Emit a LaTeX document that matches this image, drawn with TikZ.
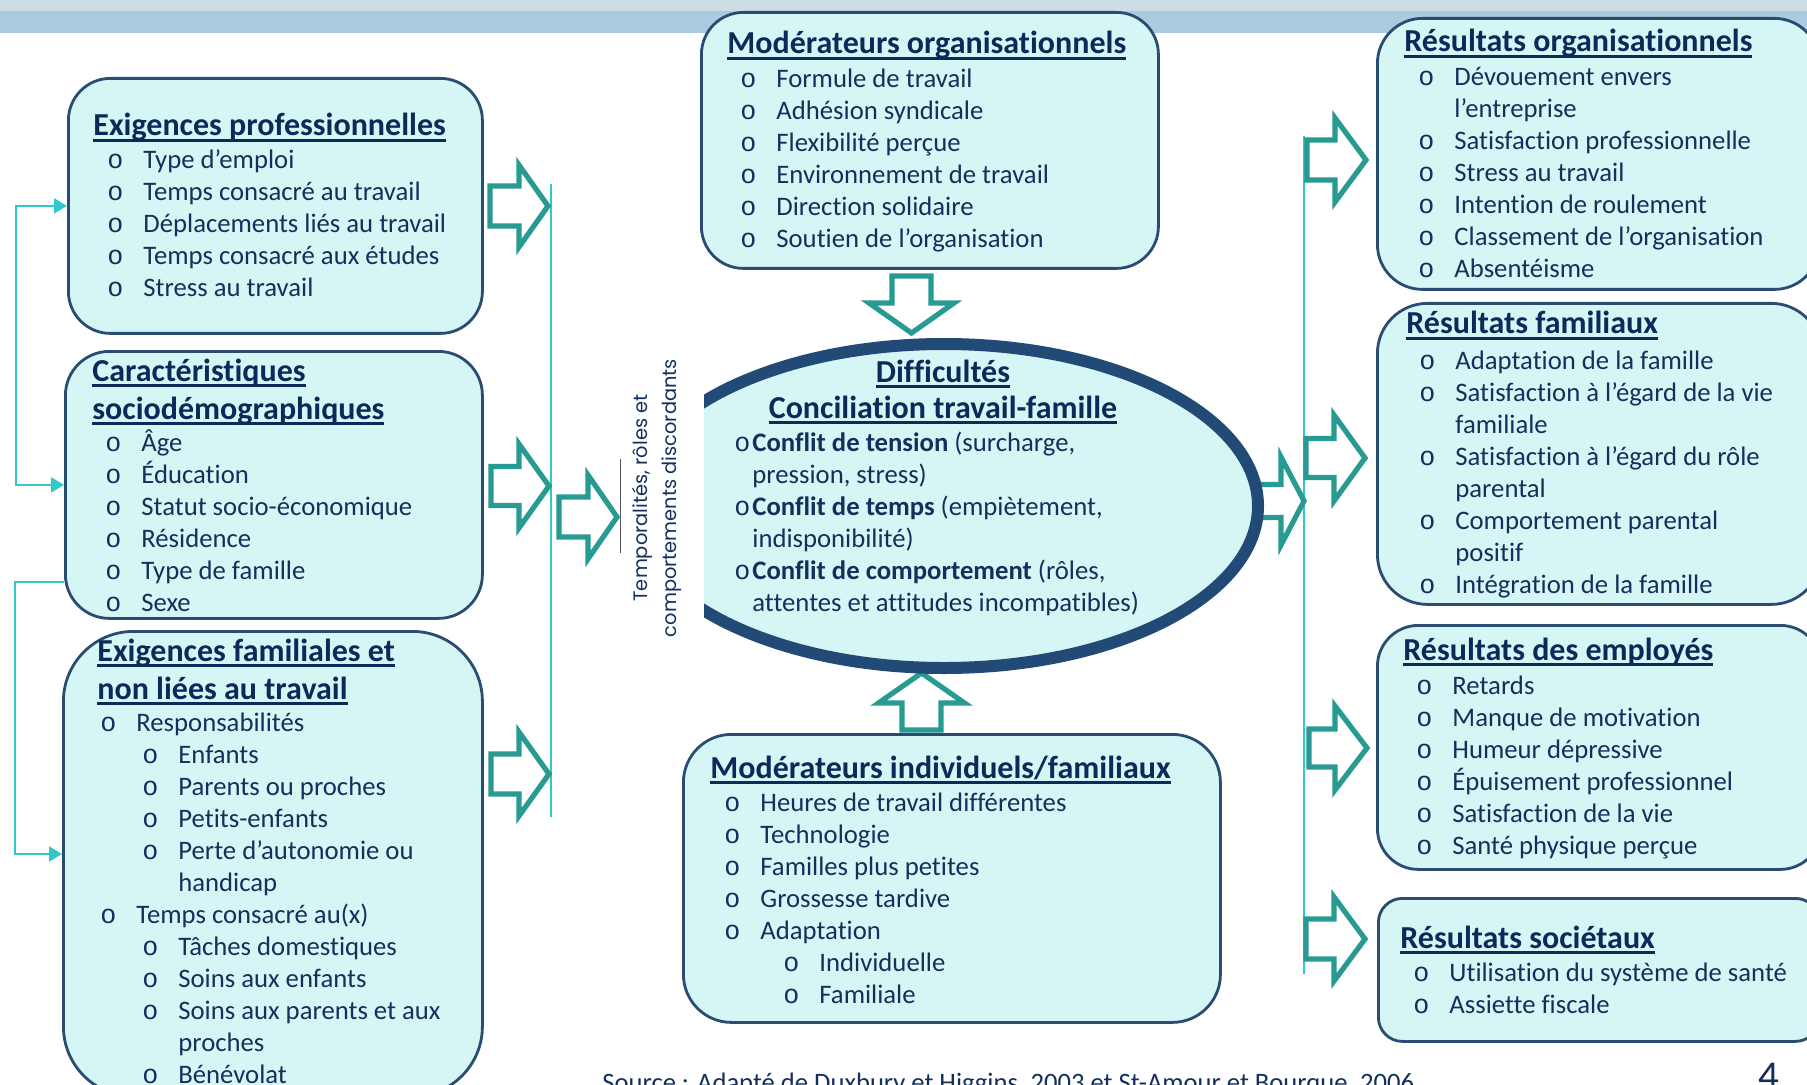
\documentclass[tikz,border=0pt]{standalone}
\usepackage{fontspec}
\setmainfont{Carlito}[Ligatures=NoCommon]
\newfontfamily\monof{Liberation Mono}
\newfontfamily\geof{Poppins}
\usetikzlibrary{shapes.geometric,arrows.meta}
\definecolor{txt}{HTML}{13305C}
\definecolor{ttlc}{HTML}{0B2A5A}
\definecolor{boxfill}{HTML}{D6F5F5}
\definecolor{boxline}{HTML}{2A4B72}
\definecolor{elline}{HTML}{214A76}
\definecolor{tealc}{HTML}{279A92}
\definecolor{cyanl}{HTML}{30C8C8}
\definecolor{bandA}{HTML}{CCDDE6}
\definecolor{bandB}{HTML}{A8CCDD}
\newsavebox\ulbox
\newcommand\ult[1]{\sbox\ulbox{#1}\rlap{\rule[-3pt]{\wd\ulbox}{1.3pt}}\usebox\ulbox}
\newlength\bw \setlength\bw{18pt}
\newcommand\stt{\rule{0pt}{12pt}}
\newcommand\bul{\stt\makebox[\bw][l]{\monof o}}
\newcommand\cont{\stt\hspace*{\bw}}
\newcommand\subb[1]{\stt\hspace*{#1}\makebox[\bw][l]{\monof o}}
\newcommand\subc[1]{\stt\hspace*{#1}\hspace*{\bw}}
\newcommand\ebul{\stt\makebox[9pt][l]{\monof o}}
\newcommand\econt{\stt\hspace*{9pt}}
\newcommand\itf{\fontsize{13.35}{16}\selectfont}
\newcommand\ttf{\fontsize{16}{19}\selectfont\bfseries}
\newcommand\RArr[6]{\draw[barrow] (#1,#4-#5) -- (#2,#4-#5) -- (#2,#4-#6) -- (#3,#4) -- (#2,#4+#6) -- (#2,#4+#5) -- (#1,#4+#5) -- cycle;}
\newcommand\VArr[6]{\draw[barrow] (#1-#5,#2) -- (#1-#5,#3) -- (#1-#6,#3) -- (#1,#4) -- (#1+#6,#3) -- (#1+#5,#3) -- (#1+#5,#2) -- cycle;}
\tikzset{
  rbox/.style={draw=boxline, line width=1.4pt, fill=boxfill, anchor=north west, inner sep=0pt},
  itemtext/.style={anchor=north west, inner sep=0pt, align=left, text=txt, font=\itf},
  ttlnode/.style={anchor=base west, inner sep=0pt, text=ttlc, font=\ttf},
  barrow/.style={draw=tealc, line width=2.6pt, fill=white, miter limit=10},
  conn/.style={draw=cyanl, line width=1pt},
  ctip/.style={-{Triangle[length=6.5pt,width=7.5pt]}},
  ctips/.style={{Triangle[length=6.5pt,width=7.5pt]}-{Triangle[length=6.5pt,width=7.5pt]}},
}
\begin{document}
\begin{tikzpicture}[x=0.5pt,y=-0.5pt]
\useasboundingbox (0,0) rectangle (1807,1085);
\fill[white] (0,0) rectangle (1807,1085);
% banner
\fill[bandA] (0,0) rectangle (1807,11);
\fill[bandB] (0,11) rectangle (1807,33);

% boxes
\node[rbox, minimum width=207pt, minimum height=127.5pt, rounded corners=21pt] (A) at (67,77) {};
\node[rbox, minimum width=208.5pt, minimum height=133.5pt, rounded corners=22pt] (B) at (64,350) {};
\node[rbox, minimum width=209.5pt, minimum height=232.5pt, rounded corners=35pt] (C) at (62,630) {};
\node[rbox, minimum width=228.5pt, minimum height=128pt, rounded corners=21pt] (MO) at (700,11) {};
\node[rbox, minimum width=268.5pt, minimum height=144pt, rounded corners=24pt] (MI) at (682,733) {};
\node[rbox, minimum width=221pt, minimum height=135.5pt, rounded corners=22.5pt] (RO) at (1376,17) {};
\node[rbox, minimum width=222pt, minimum height=150.5pt, rounded corners=25pt] (RF) at (1376,302) {};
\node[rbox, minimum width=222pt, minimum height=122pt, rounded corners=20.5pt] (RE) at (1376,624) {};
\node[rbox, minimum width=220.5pt, minimum height=71.5pt, rounded corners=12pt] (RS) at (1377,897) {};

% cyan connectors
\draw[conn, ctips] (A.west) -- ++(-51,0) |- (B.west);
\draw[conn, ctip] (B.west |- 0,582) -- ++(-49,0) |- (C.west |- 0,854);
\coordinate (L1top) at (551,184);
\coordinate (L1bot) at (551,817);
\draw[conn] (L1top) -- (L1bot);
\coordinate (R1top) at (1304,136);
\coordinate (R1bot) at (1304,974);
\draw[conn] (R1top) -- (R1bot);
\coordinate (VL1) at (620,459);
\coordinate (VL2) at (620,553);
\draw[line width=0.5pt, draw=black!65] (VL1) -- (VL2);

% block arrows
\RArr{490}{519}{548}{206}{20}{41}
\RArr{491}{519}{549}{486}{19.5}{42}
\RArr{491}{519}{549}{774}{20}{42}
\RArr{559}{588}{617}{517}{20}{42}
\RArr{1307}{1335}{1366}{160}{20}{42}
\RArr{1306}{1334}{1365}{458}{19.5}{43}
\RArr{1309}{1335}{1367}{748}{19}{42}
\RArr{1306}{1334}{1365}{939}{20}{42}
\RArr{1250}{1281}{1304}{501}{16.5}{44}
\VArr{911.5}{276}{303}{333}{19.5}{42.5}
\VArr{921.5}{730}{703}{673}{19.5}{43}

% ellipse
\begin{scope}
\clip (704,300) rectangle (1300,700);
\node[ellipse, draw=elline, line width=6pt, fill=boxfill, minimum width=314pt, minimum height=162pt, inner sep=0pt] (EL) at (944,506) {};
\end{scope}

% titles
\node[ttlnode] (tA) at (93,136) {\ult{Exigences professionnelles}};
\node[ttlnode] (tB1) at (92,381) {\ult{Caractéristiques}};
\node[ttlnode] (tB2) at (92,419) {\ult{sociodémographiques}};
\node[ttlnode] (tC1) at (97,661) {\ult{Exigences familiales et}};
\node[ttlnode] (tC2) at (97,699) {\ult{non liées au travail}};
\node[ttlnode] (tMO) at (727,54) {\ult{Modérateurs organisationnels}};
\node[ttlnode] (tMI) at (710,778) {\ult{Modérateurs individuels/familiaux}};
\node[ttlnode] (tRO) at (1404,52) {\ult{Résultats organisationnels}};
\node[ttlnode] (tRF) at (1406,334) {\ult{Résultats familiaux}};
\node[ttlnode] (tRE) at (1403,660) {\ult{Résultats des employés}};
\node[ttlnode] (tRS) at (1400,948) {\ult{Résultats sociétaux}};
\node[ttlnode, anchor=base] (tE1) at (943,382) {\ult{Difficultés}};
\node[ttlnode, anchor=base] (tE2) at (943,418) {\ult{Conciliation travail-famille}};

% items
\node[itemtext] (iA) at (107,144) {\bul Type d’emploi\\\bul Temps consacré au travail\\\bul Déplacements liés au travail\\\bul Temps consacré aux études\\\bul Stress au travail};
\node[itemtext] (iB) at (105,427) {\bul Âge\\\bul Éducation\\\bul Statut socio-économique\\\bul Résidence\\\bul Type de famille\\\bul Sexe};
\node[itemtext] (iC) at (100,707) {\bul Responsabilités\\\subb{21pt}Enfants\\\subb{21pt}Parents ou proches\\\subb{21pt}Petits-enfants\\\subb{21pt}Perte d’autonomie ou\\\subc{21pt}handicap\\\bul Temps consacré au(x)\\\subb{21pt}Tâches domestiques\\\subb{21pt}Soins aux enfants\\\subb{21pt}Soins aux parents et aux\\\subc{21pt}proches\\\subb{21pt}Bénévolat};
\node[itemtext] (iMO) at (740,63) {\bul Formule de travail\\\bul Adhésion syndicale\\\bul Flexibilité perçue\\\bul Environnement de travail\\\bul Direction solidaire\\\bul Soutien de l’organisation};
\node[itemtext] (iMI) at (724,787) {\bul Heures de travail différentes\\\bul Technologie\\\bul Familles plus petites\\\bul Grossesse tardive\\\bul Adaptation\\\subb{29.5pt}Individuelle\\\subb{29.5pt}Familiale};
\node[itemtext] (iRO) at (1418,61) {\bul Dévouement envers\\\cont l’entreprise\\\bul Satisfaction professionnelle\\\bul Stress au travail\\\bul Intention de roulement\\\bul Classement de l’organisation\\\bul Absentéisme};
\node[itemtext] (iRF) at (1419,345) {\bul Adaptation de la famille\\\bul Satisfaction à l’égard de la vie\\\cont familiale\\\bul Satisfaction à l’égard du rôle\\\cont parental\\\bul Comportement parental\\\cont positif\\\bul Intégration de la famille};
\node[itemtext] (iRE) at (1416,670) {\bul Retards\\\bul Manque de motivation\\\bul Humeur dépressive\\\bul Épuisement professionnel\\\bul Satisfaction de la vie\\\bul Santé physique perçue};
\node[itemtext] (iRS) at (1413,957) {\bul Utilisation du système de santé\\\bul Assiette fiscale};
\node[itemtext] (iEL) at (734,427) {\ebul\textbf{Conflit de tension} (surcharge,\\\econt pression, stress)\\\ebul\textbf{Conflit de temps} (empiètement,\\\econt indisponibilité)\\\ebul\textbf{Conflit de comportement} (rôles,\\\econt attentes et attitudes incompatibles)};

% vertical text
\node[rotate=90, align=center, inner sep=0pt, text=txt, font=\geof\fontsize{9.7}{14.5}\selectfont] (VT) at (657,498) {Temporalités, rôles et\\comportements discordants};

% source and page number
\node[anchor=base west, inner sep=0pt, text=txt, font=\fontsize{13.3}{16}\selectfont] (src) at (602,1091) {Source : Adapté de Duxbury et Higgins, 2003 et St-Amour et Bourque, 2006};
\node[anchor=base west, inner sep=0pt, text=txt, font=\fontsize{20.5}{24}\selectfont] (pg) at (1758,1089) {4};
\end{tikzpicture}
\end{document}
